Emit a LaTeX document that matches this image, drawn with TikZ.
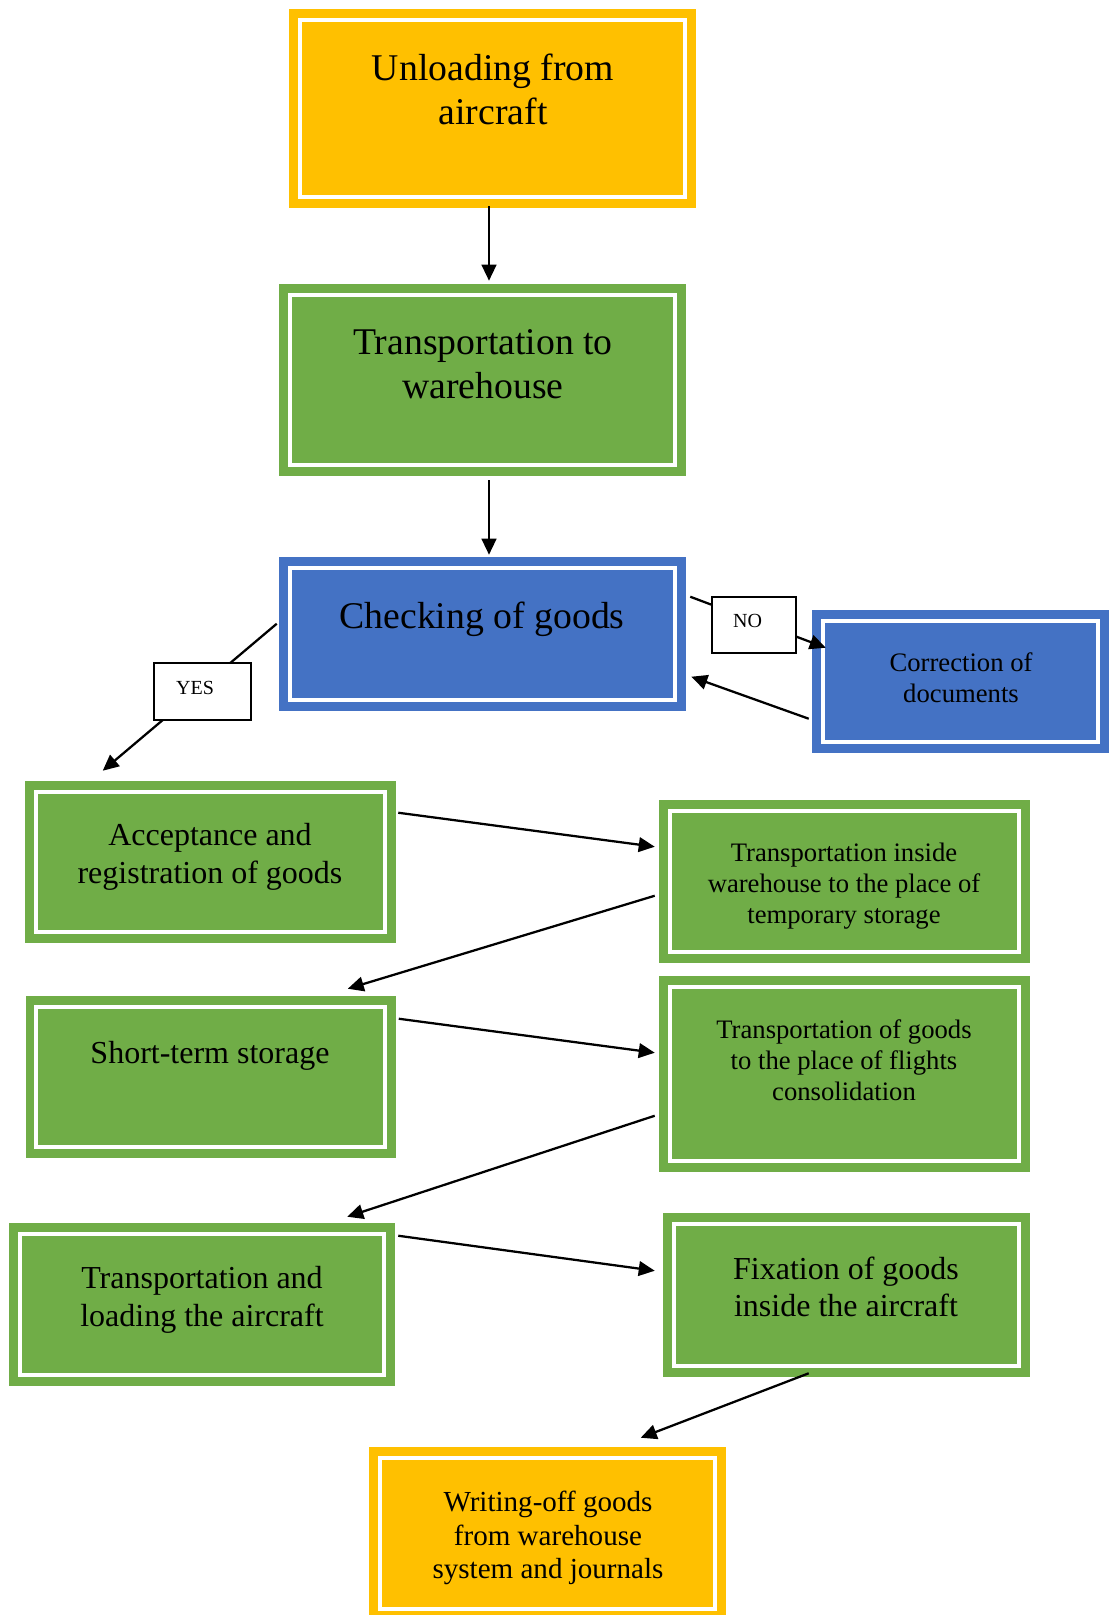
\documentclass[tikz,border=0pt]{standalone}
\usepackage{fontspec}
\setmainfont{Liberation Serif}
\usetikzlibrary{arrows.meta}
\definecolor{cOrange}{HTML}{FFC000}
\definecolor{cGreen}{HTML}{70AD47}
\definecolor{cBlue}{HTML}{4472C4}
\begin{document}
\begin{tikzpicture}[x=0.75pt,y=-0.75pt,
  box/.style={rectangle, inner sep=0pt, draw=none},
  big/.style={align=center, inner sep=0pt, font=\fontsize{28.3}{33}\selectfont},
  med/.style={align=center, inner sep=0pt, font=\fontsize{24}{28}\selectfont},
  sml/.style={align=center, inner sep=0pt, font=\fontsize{20}{23.3}\selectfont},
  wsz/.style={align=center, inner sep=0pt, font=\fontsize{21.8}{25}\selectfont},
  lbl/.style={draw, line width=1.2pt, fill=white, inner sep=0pt},
  lbltxt/.style={inner sep=0pt, font=\fontsize{15}{17}\selectfont},
  arr/.style={line width=1.7pt, -{Triangle[length=12pt,width=11pt]}}]
\useasboundingbox (0,0) rectangle (1115,1615);

% boxes
\node[box, fill=cOrange, minimum width=305.25pt, minimum height=149.25pt] (b1) at (492.5,108.5) {};
\node[box, fill=cGreen, minimum width=305.25pt, minimum height=144pt] (b2) at (482.5,380) {};
\node[box, fill=cBlue, minimum width=305.25pt, minimum height=115.5pt] (b3) at (482.5,634) {};
\node[box, fill=cBlue, minimum width=222.75pt, minimum height=107.25pt] (corr) at (960.5,681.5) {};
\node[box, fill=cGreen, minimum width=278.25pt, minimum height=121.5pt] (acc) at (210.5,862) {};
\node[box, fill=cGreen, minimum width=278.25pt, minimum height=122.25pt] (tin) at (844.5,881.5) {};
\node[box, fill=cGreen, minimum width=277.5pt, minimum height=121.5pt] (st) at (210.5,1077) {};
\node[box, fill=cGreen, minimum width=278.25pt, minimum height=147pt] (tg) at (844.5,1074) {};
\node[box, fill=cGreen, minimum width=289.5pt, minimum height=122.25pt] (tl) at (202,1304.5) {};
\node[box, fill=cGreen, minimum width=275.25pt, minimum height=123pt] (fx) at (846.5,1295) {};
\node[box, fill=cOrange, minimum width=267.75pt, minimum height=129.75pt] (wo) at (547.5,1533.5) {};

\foreach \n in {b1,b2,b3,corr,acc,tin,st,tg,tl,fx,wo}
  \draw[white, line width=3pt] ([shift={(11,11)}]\n.north west) rectangle ([shift={(-11,-11)}]\n.south east);

% texts
\node[big] (t1) at (493,89) {Unloading from\\aircraft};
\node[big] (t2) at (483,364) {Transportation to\\warehouse};
\node[big] (t3) at (482,619) {Checking of goods};
\node[sml] (tc) at (961,678) {Correction of\\documents};
\node[med] (ta) at (210,857) {Acceptance and\\registration of goods};
\node[sml] (ti) at (844,886) {Transportation inside\\warehouse to the place of\\temporary storage};
\node[med] (ts) at (210,1056) {Short-term storage};
\node[sml] (tgt) at (844,1060) {Transportation of goods\\to the place of flights\\consolidation};
\node[med] (tlt) at (202,1300) {Transportation and\\loading the aircraft};
\node[med] (tf) at (846,1287) {Fixation of goods\\inside the aircraft};
\node[wsz] (tw) at (548,1538) {Writing-off goods\\from warehouse\\system and journals};

% connectors
\draw[arr] ([shift={(-3.5,-2)}]b1.south) -- ([shift={(6.5,-3)}]b2.north);
\draw[arr] ([shift={(6.5,4)}]b2.south) -- ([shift={(6.5,-2)}]b3.north);
\draw[arr] ([shift={(4,40)}]b3.north east) -- ([shift={(14,38)}]corr.north west);
\draw[arr] ([shift={(-3,109)}]corr.north west) -- ([shift={(5,120)}]b3.north east);
\draw[arr] ([shift={(-2,67)}]b3.north west) -- ([shift={(78,-10)}]acc.north west);
\draw[arr] ([shift={(2,32)}]acc.north east) -- ([shift={(-4,47)}]tin.north west);
\draw[arr] ([shift={(-4,96)}]tin.north west) -- ([shift={(-48,-7)}]st.north east);
\draw[arr] ([shift={(3,23)}]st.north east) -- ([shift={(-4,77)}]tg.north west);
\draw[arr] ([shift={(-4,140)}]tg.north west) -- ([shift={(-48,-6)}]tl.north east);
\draw[arr] ([shift={(3,13)}]tl.north east) -- ([shift={(-8,58)}]fx.north west);
\draw[arr] ([shift={(146,-4)}]fx.south west) -- ([shift={(272,-9)}]wo.north west);

% labels
\node[lbl, minimum width=63pt, minimum height=42pt] (no) at (754,625) {};
\node[lbltxt] (notxt) at (747.5,621) {NO};
\node[lbl, minimum width=72.75pt, minimum height=42.75pt] (yes) at (202.5,691.5) {};
\node[lbltxt] (yestxt) at (195,687.5) {YES};
\end{tikzpicture}
\end{document}
